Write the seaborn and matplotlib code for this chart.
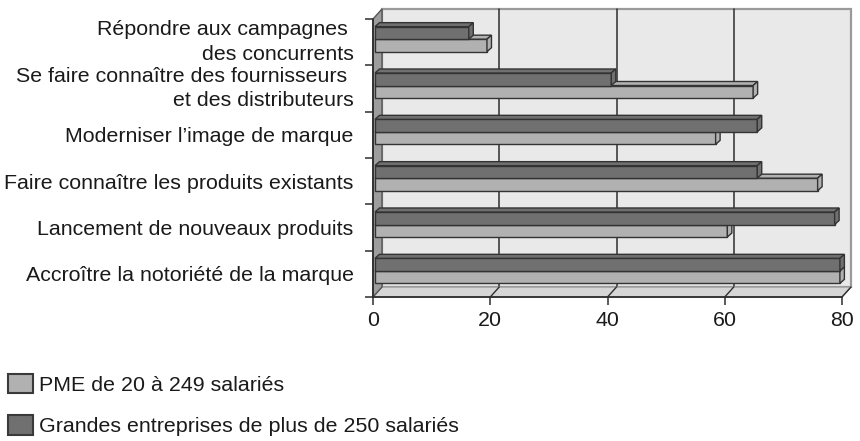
import matplotlib
matplotlib.use("Agg")
import matplotlib.pyplot as plt
import numpy as np
import pandas as pd
import seaborn as sns
from matplotlib.patches import Polygon, Rectangle, Patch
from matplotlib.transforms import offset_copy

# ---------------- data ----------------
categories = [
    "Répondre aux campagnes \ndes concurrents",
    "Se faire connaître des fournisseurs \net des distributeurs",
    "Moderniser l’image de marque",
    "Faire connaître les produits existants",
    "Lancement de nouveaux produits",
    "Accroître la notoriété de la marque",
]
series_names = ["Grandes entreprises de plus de 250 salariés", "PME de 20 à 249 salariés"]
grandes = [16, 40.3, 65.2, 65.2, 78.4, 79.3]
pme = [19.1, 64.5, 58.1, 75.5, 60.1, 79.3]
x_ticks = [0, 20, 40, 60, 80]

DARK = "#707070"
LIGHT = "#b1b1b1"
EDGE = "#333333"
TXT = "#1a1a1a"
FS = 15.4

sns.set_theme(style="white")
plt.rcParams["font.family"] = ["Liberation Sans", "DejaVu Sans"]

df = pd.DataFrame({
    "categorie": categories * 2,
    "valeur": grandes + pme,
    "serie": [series_names[0]] * len(categories) + [series_names[1]] * len(categories),
})

W, H = 860, 441
fig = plt.figure(figsize=(W / 100, H / 100), dpi=100)
fig.patch.set_facecolor("white")
ax = fig.add_axes([373 / W, 1 - 297 / H, (842 - 373) / W, (297 - 19) / H])

sns.barplot(data=df, y="categorie", x="valeur", hue="serie", hue_order=series_names,
            palette=[DARK, LIGHT], orient="h", width=0.54, saturation=1,
            edgecolor=EDGE, linewidth=1.0, legend=False, ax=ax)

ax.set_xlim(0, 80)
ax.set_ylim(len(categories) - 0.5, -0.5)
ax.set_facecolor("none")
for s in ax.spines.values():
    s.set_visible(False)

# pixel -> data scale
o = ax.transData.transform((0, 0))
sx = ax.transData.transform((1, 0))[0] - o[0]
sy = ax.transData.transform((0, 1))[1] - o[1]  # negative (inverted)

def off(dx_px, dy_px):
    return dx_px / sx, dy_px / sy

# wall depth
wdx, wdy = off(9, 10)
y_top, y_bot = -0.5, len(categories) - 0.5
x_min, x_max = 0, 80

# back wall
ax.add_patch(Polygon([(x_min + wdx, y_top + wdy), (x_max + wdx, y_top + wdy),
                      (x_max + wdx, y_bot + wdy), (x_min + wdx, y_bot + wdy)],
                     closed=True, fc="#e9e9e9", ec="#9a9a9a", lw=1.6, clip_on=False, zorder=0.3))
# back gridlines
for v in x_ticks[1:-1]:
    ax.plot([v + wdx, v + wdx], [y_top + wdy, y_bot + wdy], color="#2e2e2e", lw=1.1,
            clip_on=False, zorder=0.4)
# floor
ax.add_patch(Polygon([(x_min, y_bot), (x_max, y_bot), (x_max + wdx, y_bot + wdy), (x_min + wdx, y_bot + wdy)],
                     closed=True, fc="#d6d6d6", ec="#9a9a9a", lw=1.0, clip_on=False, zorder=0.5))
for v in x_ticks[1:]:
    ax.plot([v, v + wdx], [y_bot, y_bot + wdy], color="#2e2e2e", lw=1.0, clip_on=False, zorder=0.6)
# left wall
ax.add_patch(Polygon([(x_min, y_bot), (x_min, y_top), (x_min + wdx, y_top + wdy), (x_min + wdx, y_bot + wdy)],
                     closed=True, fc="#9d9d9d", ec="#555555", lw=1.0, clip_on=False, zorder=0.7))
# front axis lines
ax.plot([x_min, x_min], [y_top, y_bot], color="#2e2e2e", lw=1.3, clip_on=False, zorder=0.8)
ax.plot([x_min, x_max], [y_bot, y_bot], color="#2e2e2e", lw=1.3, clip_on=False, zorder=0.8)

# 3D bars
tr_bar = offset_copy(ax.transData, fig=fig, x=2, y=3, units="dots")
bdx, bdy = off(4.5, 4)
n = len(categories)
bars = [p for p in ax.patches if isinstance(p, Rectangle) and p.get_width() > 0 and p.get_height() < 1]
for p in bars:
    fc = p.get_facecolor()
    is_dark = abs(fc[0] - int(DARK[1:3], 16) / 255) < 0.02
    z = 3.0 if is_dark else 2.0
    p.set_transform(tr_bar)
    p.set_zorder(z)
    p.set_clip_on(False)
    x0, w = p.get_x(), p.get_width()
    yt, h = p.get_y(), p.get_height()
    x1, yb = x0 + w, yt + h
    top = Polygon([(x0, yt), (x1, yt), (x1 + bdx, yt + bdy), (x0 + bdx, yt + bdy)], closed=True,
                  fc=fc, ec=EDGE, lw=1.0, transform=tr_bar, clip_on=False, zorder=z + 0.1)
    right = Polygon([(x1, yb), (x1, yt), (x1 + bdx, yt + bdy), (x1 + bdx, yb + bdy)], closed=True,
                    fc=fc, ec=EDGE, lw=1.0, transform=tr_bar, clip_on=False, zorder=z + 0.1)
    ax.add_patch(top)
    ax.add_patch(right)

# ticks
ax.set_xticks(x_ticks)
ax.set_xticklabels([str(t) for t in x_ticks], fontsize=FS, color=TXT)
ax.tick_params(axis="x", which="major", bottom=True, length=6, width=1.1, color="#2e2e2e", pad=4)
ax.set_yticks(range(n))
ax.set_yticklabels(categories, fontsize=FS, color=TXT, ha="right", multialignment="right",
                   linespacing=1.4)
for t in ax.get_yticklabels():
    if "\n" in t.get_text():
        t.set_va("center")
ax.tick_params(axis="y", which="major", left=False, length=0, pad=14)
ax.set_yticks(np.arange(-0.5, n, 1.0), minor=True)
ax.tick_params(axis="y", which="minor", left=True, length=6, width=1.1, color="#2e2e2e")
ax.set_xlabel("")
ax.set_ylabel("")

# legend
handles = [Patch(fc=LIGHT, ec="#3a3a3a", lw=1.5, label=series_names[1]),
           Patch(fc=DARK, ec="#3a3a3a", lw=1.5, label=series_names[0])]
leg = fig.legend(handles=handles, loc="upper left", bbox_to_anchor=(4 / W, 1 - 370 / H),
                 frameon=False, fontsize=FS, handlelength=1.15, handleheight=1.0,
                 handletextpad=0.3, labelspacing=0.95, borderaxespad=0, borderpad=0.2)
for t in leg.get_texts():
    t.set_color(TXT)

fig.savefig("out.png", dpi=100, facecolor="white")
